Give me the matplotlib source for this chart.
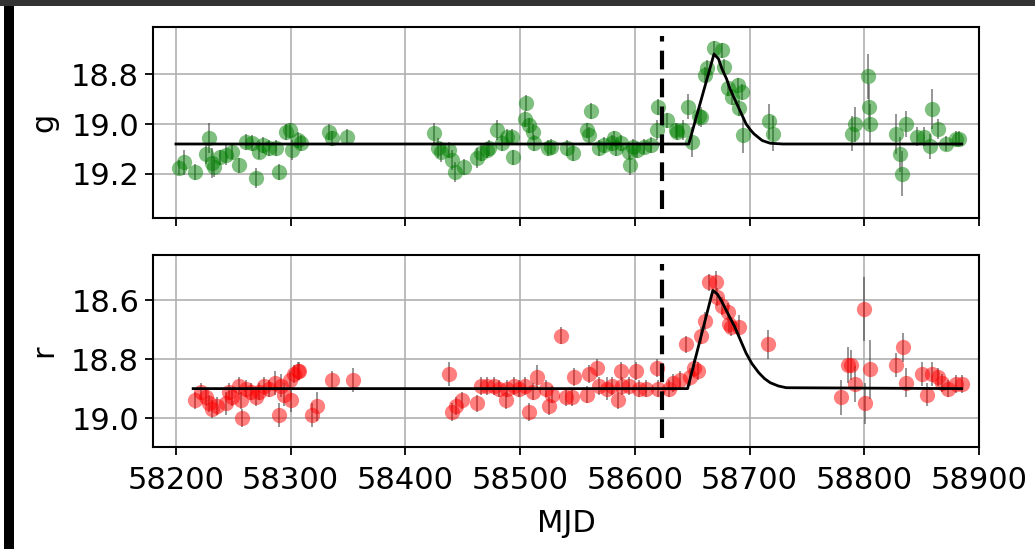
import matplotlib
matplotlib.use("Agg")
import matplotlib.pyplot as plt
from matplotlib.patches import Rectangle

# ---------------- data ----------------
g_t = [58203, 58207, 58217, 58226, 58229, 58231, 58233, 58238, 58244, 58249, 58255, 58261,
       58266, 58270, 58272, 58276, 58281, 58287, 58290, 58296, 58299, 58301, 58306, 58309,
       58333, 58336, 58349,
       58425, 58428, 58431, 58438, 58441, 58443, 58451, 58462, 58466, 58471, 58473, 58480,
       58484, 58489, 58493, 58494, 58505, 58504, 58508, 58511, 58512, 58524, 58527, 58541,
       58546, 58558, 58562, 58560, 58569, 58573, 58580, 58582, 58584, 58588, 58595, 58596,
       58598, 58602, 58608, 58614, 58619, 58620, 58628, 58636, 58637,
       58642, 58646, 58650, 58656, 58658, 58661, 58663, 58669, 58676, 58678, 58681, 58685,
       58690, 58693, 58691, 58694,
       58717, 58720, 58789, 58792, 58803, 58804, 58805, 58828, 58831, 58833, 58836, 58846,
       58852, 58857, 58859, 58864, 58871, 58880, 58883]
g_m = [19.176, 19.152, 19.192, 19.120, 19.056, 19.156, 19.172, 19.132, 19.124, 19.112, 19.164, 19.072,
       19.076, 19.216, 19.112, 19.084, 19.096, 19.096, 19.192, 19.032, 19.024, 19.104, 19.064, 19.076,
       19.032, 19.056, 19.052,
       19.035, 19.096, 19.112, 19.104, 19.144, 19.192, 19.172, 19.136, 19.116, 19.104, 19.096, 19.024,
       19.076, 19.052, 19.052, 19.132, 18.916, 18.980, 19.004, 19.032, 19.076, 19.096, 19.092, 19.096,
       19.116, 19.024, 18.948, 19.044, 19.096, 19.084, 19.076, 19.056, 19.096, 19.076, 19.112, 19.164,
       19.092, 19.104, 19.092, 19.084, 19.024, 18.932, 18.984, 19.024, 19.032,
       19.024, 18.932, 19.072, 18.970, 18.972, 18.804, 18.776, 18.696, 18.704, 18.772, 18.856, 18.892,
       18.844, 18.872, 18.936, 19.044,
       18.99, 19.04, 19.04, 19.00, 18.81, 18.93, 19.00, 19.04, 19.12, 19.20, 19.00, 19.05,
       19.05, 19.09, 18.94, 19.02, 19.08, 19.06, 19.06]
g_e = [0.03, 0.05, 0.03, 0.04, 0.06, 0.06, 0.04, 0.03, 0.04, 0.03, 0.03, 0.03,
       0.03, 0.04, 0.03, 0.03, 0.03, 0.03, 0.03, 0.03, 0.03, 0.04, 0.03, 0.03,
       0.03, 0.03, 0.03,
       0.04, 0.04, 0.04, 0.03, 0.04, 0.04, 0.03, 0.04, 0.03, 0.03, 0.03, 0.04,
       0.03, 0.03, 0.03, 0.03, 0.03, 0.03, 0.03, 0.03, 0.03, 0.03, 0.03, 0.03,
       0.03, 0.03, 0.03, 0.03, 0.03, 0.03, 0.03, 0.03, 0.03, 0.03, 0.03, 0.04,
       0.03, 0.03, 0.03, 0.03, 0.04, 0.03, 0.03, 0.03, 0.03,
       0.04, 0.05, 0.06, 0.04, 0.04, 0.03, 0.03, 0.03, 0.03, 0.03, 0.03, 0.03,
       0.03, 0.03, 0.03, 0.07,
       0.07, 0.07, 0.07, 0.07, 0.09, 0.09, 0.08, 0.08, 0.07, 0.09, 0.05, 0.04,
       0.04, 0.05, 0.08, 0.04, 0.03, 0.03, 0.03]

r_t = [58217, 58222, 58226, 58229, 58231, 58236, 58244, 58246, 58249, 58255, 58257, 58258,
       58261, 58265, 58270, 58272, 58277, 58281, 58286, 58290, 58292, 58294, 58299, 58300,
       58303, 58306, 58307, 58319, 58323, 58336, 58354,
       58438, 58441, 58444, 58449, 58462, 58466, 58471, 58477, 58482, 58488, 58489, 58495,
       58499, 58504, 58508, 58511, 58515, 58523, 58525, 58528, 58536, 58540, 58545, 58547,
       58558, 58560, 58567, 58569, 58576, 58580, 58585, 58588, 58589, 58595, 58601, 58604,
       58610, 58619, 58620,
       58630, 58633, 58639, 58645, 58648, 58652, 58655, 58658, 58661, 58665, 58671, 58672,
       58676, 58681, 58682, 58684, 58691, 58716,
       58780, 58786, 58788, 58792, 58800, 58801, 58805, 58828, 58834, 58836, 58850, 58855,
       58859, 58864, 58868, 58873, 58880, 58885]
r_m = [18.94, 18.91, 18.93, 18.95, 18.97, 18.96, 18.95, 18.91, 18.93, 18.89, 18.94, 19.00,
       18.90, 18.91, 18.93, 18.91, 18.89, 18.90, 18.88, 18.99, 18.89, 18.92, 18.87, 18.94,
       18.85, 18.84, 18.84, 18.99, 18.96, 18.87, 18.87,
       18.85, 18.98, 18.96, 18.94, 18.95, 18.89, 18.89, 18.89, 18.90, 18.94, 18.90, 18.89,
       18.90, 18.89, 18.98, 18.91, 18.86, 18.90, 18.96, 18.92, 18.72, 18.93, 18.93, 18.86,
       18.92, 18.85, 18.83, 18.89, 18.90, 18.89, 18.94, 18.84, 18.89, 18.89, 18.84, 18.90,
       18.90, 18.83, 18.90,
       18.90, 18.88, 18.87, 18.75, 18.86, 18.83, 18.84, 18.72, 18.67, 18.54, 18.54, 18.59,
       18.62, 18.64, 18.68, 18.69, 18.69, 18.75,
       18.93, 18.82, 18.82, 18.885, 18.63, 18.95, 18.835, 18.82, 18.76, 18.88, 18.85, 18.92,
       18.85, 18.86, 18.88, 18.90, 18.885, 18.885]
r_e = [0.03, 0.03, 0.03, 0.03, 0.03, 0.03, 0.04, 0.03, 0.03, 0.03, 0.03, 0.03,
       0.03, 0.03, 0.03, 0.03, 0.03, 0.03, 0.04, 0.04, 0.04, 0.04, 0.03, 0.04,
       0.03, 0.03, 0.03, 0.04, 0.05, 0.03, 0.04,
       0.04, 0.03, 0.03, 0.03, 0.03, 0.03, 0.03, 0.03, 0.03, 0.03, 0.03, 0.03,
       0.03, 0.03, 0.03, 0.03, 0.04, 0.03, 0.03, 0.03, 0.03, 0.03, 0.03, 0.03,
       0.03, 0.03, 0.03, 0.03, 0.04, 0.03, 0.03, 0.03, 0.03, 0.03, 0.03, 0.03,
       0.03, 0.03, 0.03,
       0.03, 0.03, 0.03, 0.03, 0.03, 0.03, 0.03, 0.03, 0.03, 0.03, 0.04, 0.03,
       0.03, 0.03, 0.03, 0.03, 0.04, 0.05,
       0.06, 0.06, 0.05, 0.06, 0.11, 0.07, 0.10, 0.04, 0.05, 0.05, 0.04, 0.04,
       0.04, 0.03, 0.03, 0.03, 0.03, 0.03]

# fitted model curves
g_model_t = [58200, 58647, 58669, 58673, 58676, 58680, 58683, 58687, 58690, 58694, 58697,
             58701, 58704, 58708, 58711, 58718, 58729, 58885]
g_model_m = [19.08, 19.08, 18.72, 18.74, 18.78, 18.82, 18.86, 18.90, 18.93, 18.97, 19.00,
             19.025, 19.04, 19.055, 19.066, 19.077, 19.08, 19.08]
r_model_t = [58215, 58646, 58668, 58672, 58676, 58681, 58687, 58692, 58697, 58702, 58708,
             58713, 58718, 58725, 58732, 58885]
r_model_m = [18.90, 18.90, 18.567, 18.58, 18.606, 18.645, 18.69, 18.735, 18.78, 18.815, 18.846,
             18.866, 18.88, 18.891, 18.897, 18.90]

event_mjd = 58624
x_ticks = [58200, 58300, 58400, 58500, 58600, 58700, 58800, 58900]
g_yticks = [18.8, 19.0, 19.2]
r_yticks = [18.6, 18.8, 19.0]

# ---------------- figure ----------------
W, H = 1035, 549
fig = plt.figure(figsize=(W / 100, H / 100), dpi=100)
fig.patch.set_facecolor("white")

def fx(px):
    return px / W

def fy(py):
    return 1 - py / H

ax1 = fig.add_axes([fx(153), fy(218), fx(979) - fx(153), fy(27) - fy(218)])
ax2 = fig.add_axes([fx(153), fy(447), fx(979) - fx(153), fy(255) - fy(447)], sharex=ax1)

panels = [
    (ax1, g_t, g_m, g_e, "green", g_model_t, g_model_m, "g", g_yticks, (19.376, 18.612)),
    (ax2, r_t, r_m, r_e, "red", r_model_t, r_model_m, "r", r_yticks, (19.098, 18.447)),
]

for ax, t, m, e, col, mt, mm, lab, yt, yl in panels:
    ax.grid(True, color="#b0b0b0", lw=1.2, zorder=0)
    ax.set_axisbelow(True)
    ax.errorbar(t, m, yerr=e, fmt="none", ecolor="0.25", elinewidth=1.4, alpha=0.55, zorder=2)
    ax.plot(t, m, "o", color=col, alpha=0.5, ms=11, mew=0, zorder=3)
    ax.plot(mt, mm, "-", color="black", lw=2.0, zorder=4)
    ax.axvline(event_mjd, ymin=0.045, ymax=0.955, color="black", lw=3.0,
               linestyle=(0, (4.5, 2.2)), zorder=5)
    ax.set_yticks(yt)
    ax.set_ylim(*yl)
    ax.set_ylabel(lab, fontsize=22, labelpad=9)
    ax.tick_params(axis="both", labelsize=22, length=6, width=1.3, pad=4)
    for s in ax.spines.values():
        s.set_linewidth(1.5)

ax1.set_xlim(58180, 58900)
ax1.set_xticks(x_ticks)
ax1.tick_params(axis="x", labelbottom=False)
ax2.tick_params(axis="x", pad=8)
ax2.set_xlabel("MJD", fontsize=22, labelpad=10)

# screenshot frame
fig.patches.append(Rectangle((0, fy(6)), 1, 6 / H, transform=fig.transFigure,
                             facecolor="#333333", edgecolor="none", zorder=10))
fig.patches.append(Rectangle((fx(4), 0), fx(10), fy(6), transform=fig.transFigure,
                             facecolor="black", edgecolor="none", zorder=10))

fig.savefig("out.png", dpi=100)
